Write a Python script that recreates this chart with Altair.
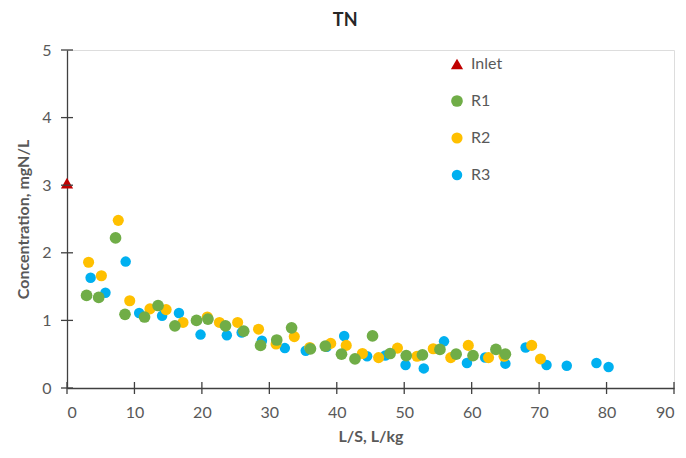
import altair as alt
import pandas as pd

# ---- data ----
inlet_x = [0.0]
inlet_y = [3.03]

r1_x = [2.9, 4.7, 7.2, 8.6, 11.5, 13.5, 16.0, 19.2, 20.9, 23.5, 26.2, 28.7, 31.1, 33.3,
        36.1, 38.3, 40.7, 42.7, 45.3, 47.9, 50.3, 52.7, 55.3, 57.7, 60.2, 63.6, 65.0]
r1_y = [1.37, 1.34, 2.22, 1.09, 1.05, 1.22, 0.92, 1.00, 1.02, 0.92, 0.84, 0.63, 0.71, 0.89,
        0.58, 0.62, 0.50, 0.43, 0.77, 0.51, 0.48, 0.49, 0.57, 0.50, 0.48, 0.57, 0.50]

r2_x = [3.2, 5.1, 7.6, 9.3, 12.3, 14.7, 17.2, 20.8, 22.6, 25.3, 28.4, 31.0, 33.7, 36.0,
        39.1, 41.4, 43.8, 46.2, 49.0, 51.9, 54.3, 56.9, 59.5, 62.5, 64.8, 68.9, 70.2]
r2_y = [1.86, 1.66, 2.48, 1.29, 1.17, 1.16, 0.97, 1.05, 0.97, 0.97, 0.87, 0.65, 0.76, 0.60,
        0.66, 0.63, 0.51, 0.45, 0.59, 0.47, 0.58, 0.45, 0.63, 0.45, 0.47, 0.63, 0.43]

r3_x = [3.5, 5.7, 8.7, 10.7, 14.1, 16.6, 19.8, 23.7, 25.9, 28.9, 32.3, 35.4, 38.5, 41.1,
        44.5, 47.2, 50.2, 52.9, 55.9, 59.3, 62.0, 65.0, 68.0, 71.1, 74.1, 78.5, 80.3]
r3_y = [1.63, 1.41, 1.87, 1.11, 1.07, 1.11, 0.79, 0.78, 0.82, 0.70, 0.59, 0.55, 0.61, 0.77,
        0.47, 0.48, 0.34, 0.29, 0.69, 0.37, 0.45, 0.36, 0.60, 0.34, 0.33, 0.37, 0.31]

series_names = ["Inlet", "R1", "R2", "R3"]
series_colors = ["#C00000", "#70AD47", "#FFC000", "#00B0F0"]
series_shapes = ["triangle-up", "circle", "circle", "circle"]
series_sizes = [150, 110, 110, 110]

x_ticks = [0, 10, 20, 30, 40, 50, 60, 70, 80, 90]
y_ticks = [0, 1, 2, 3, 4, 5]

rows = []
for name, xs, ys in [("Inlet", inlet_x, inlet_y), ("R1", r1_x, r1_y),
                     ("R2", r2_x, r2_y), ("R3", r3_x, r3_y)]:
    for xv, yv in zip(xs, ys):
        rows.append({"series": name, "ls": xv, "conc": yv})
df = pd.DataFrame(rows)

W, H = 607, 338
FONT = "Lato"
TXT = "#595959"
AXC = "#404040"

xscale = alt.Scale(domain=[0, 90], nice=False, zero=True)
yscale = alt.Scale(domain=[0, 5], nice=False, zero=True)

points = alt.Chart(df).mark_point(filled=True, opacity=1).encode(
    x=alt.X("ls:Q", scale=xscale, title="L/S, L/kg",
            axis=alt.Axis(values=x_ticks, format="d", grid=False, ticks=False,
                          domainColor=AXC, domainWidth=1.3,
                          labelFontSize=16, labelColor=TXT, labelFont=FONT, labelPadding=16,
                          titleFontSize=16, titleFont=FONT, titleColor=TXT,
                          titleFontWeight="bold", titlePadding=8)),
    y=alt.Y("conc:Q", scale=yscale, title="Concentration, mgN/L",
            axis=alt.Axis(values=y_ticks, format="d", grid=False, ticks=False,
                          domainColor=AXC, domainWidth=1.3,
                          labelFontSize=16, labelColor=TXT, labelFont=FONT, labelPadding=16,
                          titleFontSize=16, titleFont=FONT, titleColor=TXT,
                          titleFontWeight="bold", titlePadding=10)),
    color=alt.Color("series:N", scale=alt.Scale(domain=series_names, range=series_colors),
                    legend=alt.Legend(title=None, orient="none", legendX=382, legendY=6,
                                      labelFontSize=16, labelFont=FONT, labelColor=TXT,
                                      symbolSize=110, rowPadding=21, labelOffset=6,
                                      symbolStrokeWidth=0)),
    shape=alt.Shape("series:N", scale=alt.Scale(domain=series_names, range=series_shapes),
                    legend=None),
    size=alt.Size("series:N", scale=alt.Scale(domain=series_names, range=series_sizes),
                  legend=None),
    order=alt.Order("series:N", sort="descending"),
)

# cross-style tick marks (through the axis line)
xt = pd.DataFrame({"t": x_ticks})
yt = pd.DataFrame({"t": y_ticks})
xin = alt.Chart(xt).mark_tick(color=AXC, orient="vertical", size=12, thickness=1.3,
                              opacity=1).encode(
    x=alt.X("t:Q", scale=xscale), y=alt.value(H))
yin = alt.Chart(yt).mark_tick(color=AXC, orient="horizontal", size=12, thickness=1.3,
                              opacity=1).encode(
    y=alt.Y("t:Q", scale=yscale), x=alt.value(0))

chart = alt.layer(points, xin, yin).properties(
    width=W, height=H,
    title=alt.TitleParams("TN", fontSize=18, font=FONT, fontWeight="bold", color="#262626",
                          anchor="middle", frame="bounds", offset=12),
    padding={"left": 67, "top": 50, "right": 12, "bottom": 70},
    autosize=alt.AutoSizeParams(type="none"),
).configure_view(stroke=None).configure(background="white")

chart.save("out.html", embed_options={"renderer": "svg", "actions": False})
